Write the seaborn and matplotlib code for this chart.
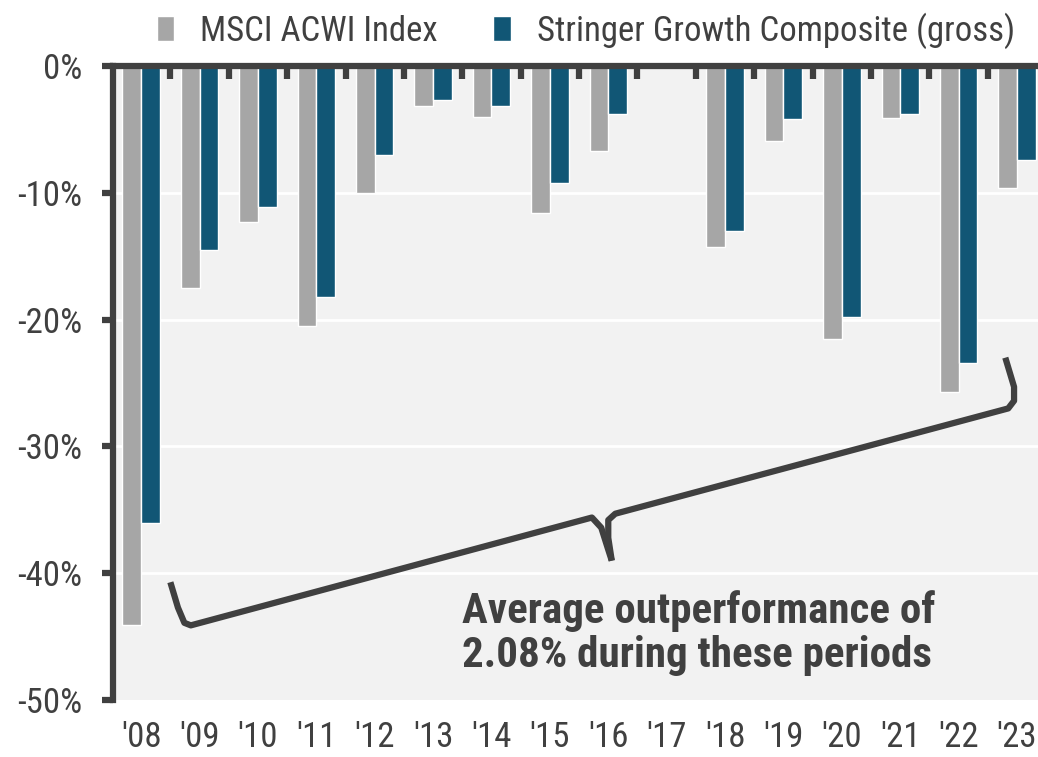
"""
Drawdown years: MSCI ACWI Index vs Stringer Growth Composite (gross)
"""

import pandas as pd
import matplotlib.pyplot as plt
import seaborn as sns
from matplotlib.ticker import FixedLocator, FuncFormatter

# Chart data (percent returns in down periods)
years = ["'08", "'09", "'10", "'11", "'12", "'13", "'14", "'15",
         "'16", "'17", "'18", "'19", "'20", "'21", "'22", "'23"]
acwi = [-44.1, -17.5, -12.3, -20.5, -10.0, -3.2, -4.0, -11.6,
        -6.7, 0.0, -14.3, -5.9, -21.5, -4.1, -25.7, -9.6]
stringer = [-36.0, -14.5, -11.1, -18.2, -7.0, -2.7, -3.2, -9.2,
            -3.8, 0.0, -13.0, -4.2, -19.8, -3.8, -23.4, -7.4]
series_names = ["MSCI ACWI Index", "Stringer Growth Composite (gross)"]
y_ticks = [0, -10, -20, -30, -40, -50]
note = "Average outperformance of\n2.08% during these periods"

DARK = "#404040"
GRAY = "#a6a6a6"
BLUE = "#115675"
BG = "#f2f2f2"


def build_frame():
    df = pd.DataFrame({
        "year": years * 2,
        "value": acwi + stringer,
        "series": [series_names[0]] * len(years) + [series_names[1]] * len(years),
    })
    return df


def main():
    sns.set_theme(style="white")
    plt.rcParams["font.family"] = ["Roboto Condensed", "DejaVu Sans"]
    plt.rcParams["axes.unicode_minus"] = False

    df = build_frame()

    fig = plt.figure(figsize=(10.38, 7.57), dpi=100)
    ax = fig.add_axes([0.109, 0.075, 0.891, 0.838])
    ax.set_facecolor(BG)

    sns.barplot(
        data=df,
        x="year",
        y="value",
        hue="series",
        hue_order=series_names,
        palette=[GRAY, BLUE],
        saturation=1,
        width=0.64,
        edgecolor="white",
        linewidth=1,
        ax=ax,
    )

    ax.set_ylim(-50, 0)
    ax.set_xlim(-0.48, 15.36)

    # white gridlines
    ax.yaxis.set_major_locator(FixedLocator(y_ticks))
    ax.yaxis.set_major_formatter(FuncFormatter(lambda v, _: f"{v:.0f}%"))
    for v in y_ticks[1:-1]:
        ax.axhline(v, color="white", lw=2, zorder=0)

    # spines
    for side in ["right", "bottom"]:
        ax.spines[side].set_visible(False)
    for side in ["left", "top"]:
        ax.spines[side].set_color(DARK)
        ax.spines[side].set_linewidth(4.5)

    ax.tick_params(axis="y", left=True, length=8, width=4.5, color=DARK,
                   labelsize=25, labelcolor=DARK, pad=14)
    ax.tick_params(axis="x", bottom=False, length=0, labelsize=25,
                   labelcolor=DARK, pad=15)
    ax.xaxis.set_minor_locator(FixedLocator([i + 0.5 for i in range(len(years) - 1)]))
    ax.tick_params(axis="x", which="minor", top=True, bottom=False,
                   direction="in", length=9, width=4.5, color=DARK)
    ax.set_xlabel("")
    ax.set_ylabel("")

    # legend above the plot
    ax.legend(
        loc="lower center",
        bbox_to_anchor=(0.511, 1.005),
        ncol=2,
        frameon=False,
        fontsize=25,
        labelcolor=DARK,
        handlelength=0.5,
        handleheight=0.75,
        handletextpad=0.75,
        columnspacing=1.6,
        borderaxespad=0,
    )

    # brace annotation
    brace_left = [(0.50, -40.7), (0.63, -42.7), (0.74, -43.9), (0.85, -44.1),
                  (7.72, -35.6), (7.88, -36.4), (7.99, -38.0), (8.06, -39.0)]
    brace_right = [(8.06, -39.0), (8.00, -37.2), (8.00, -35.8), (8.12, -35.3),
                   (14.85, -27.0), (14.95, -26.4), (14.95, -25.3), (14.80, -23.0)]
    for pts in (brace_left, brace_right):
        xs, ys = zip(*pts)
        ax.plot(xs, ys, color=DARK, lw=4.5, solid_capstyle="butt",
                solid_joinstyle="round", zorder=5)

    ax.text(5.49, -41.3, note, ha="left", va="top", fontsize=31,
            fontweight="bold", color=DARK, linespacing=1.1)

    fig.savefig("out.png", dpi=100, facecolor="white")


if __name__ == "__main__":
    main()
